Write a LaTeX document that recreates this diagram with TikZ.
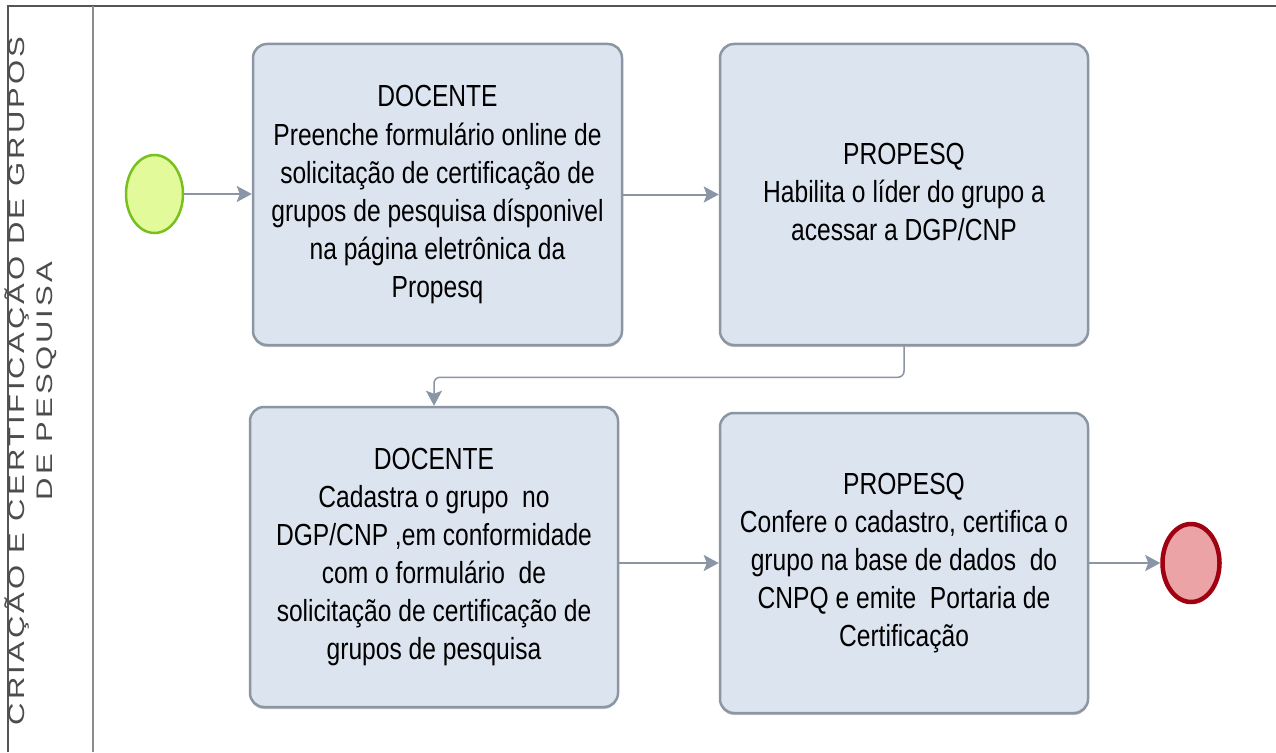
\documentclass[tikz,border=0pt]{standalone}
\usepackage{fontspec}
\setmainfont{Liberation Sans}
\newfontfamily\lanefont[LetterSpace=10]{Liberation Sans}
\usetikzlibrary{arrows.meta,shapes.geometric,shadows}
\definecolor{boxfill}{HTML}{DCE4F0}
\definecolor{boxline}{HTML}{8C96A3}
\definecolor{flowc}{HTML}{8A95A5}
\definecolor{startfill}{HTML}{E3FA9A}
\definecolor{startline}{HTML}{78C020}
\definecolor{endfill}{HTML}{EBA3A6}
\definecolor{endline}{HTML}{A00010}
\definecolor{framec}{HTML}{555555}
\newcommand{\boxtext}[1]{\scalebox{1}[1.24]{\fontsize{24.6}{30.7}\selectfont\begin{tabular}{@{}c@{}}#1\end{tabular}}}
\tikzset{
  task/.style={draw=boxline, fill=boxfill, line width=2.5pt, rounded corners=14pt,
    minimum width=368pt, minimum height=300pt, inner sep=0pt,
    drop shadow={shadow xshift=0pt, shadow yshift=-2pt, fill=black!50, opacity=0.45}},
  flow/.style={draw=flowc, line width=2pt, -{Stealth[length=15pt,width=16pt,inset=3pt]}},
  flowthin/.style={draw=flowc, line width=1.5pt, rounded corners=6pt, -{Stealth[length=15pt,width=16pt,inset=3pt]}},
  startev/.style={ellipse, draw=startline, fill=startfill, line width=2.5pt, minimum width=57pt, minimum height=78pt, inner sep=0pt},
  endev/.style={ellipse, draw=endline, fill=endfill, line width=4.5pt, minimum width=57pt, minimum height=78pt, inner sep=0pt},
  framel/.style={draw=framec, line width=2pt},
  lanel/.style={draw=black!45, line width=2.5pt}
}
\begin{document}
\begin{tikzpicture}[x=1pt,y=-1pt]
\useasboundingbox (0,0) rectangle (1276,752);
\fill[white] (0,0) rectangle (1276,752);
% frame
\draw[framel] (8,752) -- (8,6) -- (1276,6);
\draw[lanel] (93,6) -- (93,752);
\node[rotate=90, text=black!70, inner sep=0pt] (lane) at (33,381)
  {\scalebox{1.38}[1]{\lanefont\fontsize{22.5}{28}\selectfont\begin{tabular}{@{}c@{}}CRIAÇÃO E CERTIFICAÇÃO DE GRUPOS\\DE PESQUISA\end{tabular}}};
% events
\node[startev] (start) at (154.5,194) {};
\node[endev] (end) at (1191,563) {};
% tasks
\node[task, minimum width=369pt, minimum height=301pt] (b1) at (437.5,194.5)
  {\boxtext{DOCENTE\\Preenche formulário online de\\solicitação de certificação de\\grupos de pesquisa dísponivel\\na página eletrônica da\\Propesq}};
\node[task, minimum height=301pt] (b2) at (904,194.5)
  {\boxtext{PROPESQ\\Habilita o líder do grupo a\\acessar a DGP/CNP}};
\node[task] (b3) at (434,557)
  {\boxtext{DOCENTE\\Cadastra o grupo~ no\\DGP/CNP ,em conformidade\\com o formulário~ de\\solicitação de certificação de\\grupos de pesquisa}};
\node[task] (b4) at (904,563)
  {\boxtext{PROPESQ\\Confere o cadastro, certifica o\\grupo na base de dados~ do\\CNPQ e emite~ Portaria de\\Certificação}};
% connectors
\draw[flow] (start.east) -- (start.east -| b1.west);
\draw[flow] (b1.east) -- (b2.west);
\draw[flowthin] (b2.south) -- ++(0,31) -| (b3.north);
\draw[flow] (b4.west -| b3.east) -- (b4.west);
\draw[flow] (b4.east) -- (end.west);
\end{tikzpicture}
\end{document}
